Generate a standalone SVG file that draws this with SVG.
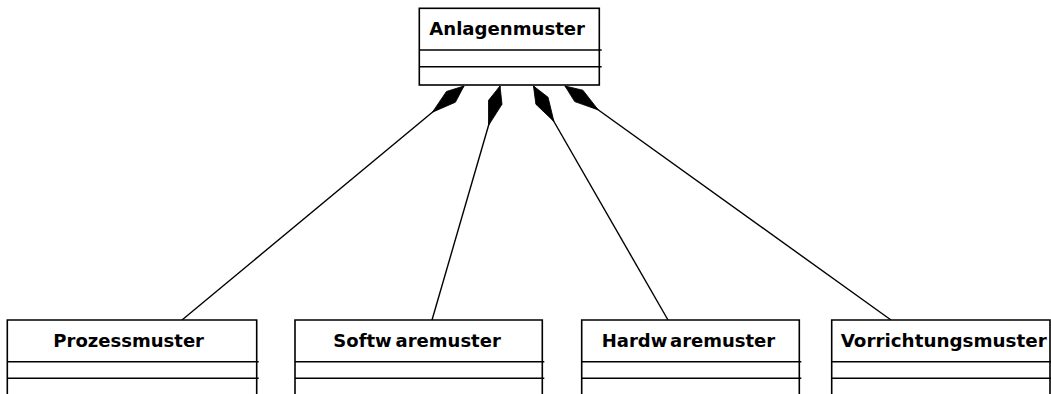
<svg xmlns="http://www.w3.org/2000/svg" width="1051" height="394" viewBox="0 0 1051 394">
<style>
.box{fill:#fff;stroke:#000;stroke-width:1.6}
.div{stroke:#000;stroke-width:1.6;fill:none}
.name{font-family:"DejaVu Sans","Verdana",sans-serif;font-weight:bold;font-size:18px;fill:#000}
.conn{stroke:#000;stroke-width:1.4;fill:none;marker-start:url(#diamond)}
</style>
<defs>
<marker id="diamond" markerUnits="userSpaceOnUse" markerWidth="50" markerHeight="20" refX="0" refY="8" orient="auto" viewBox="0 0 50 16" overflow="visible">
<path d="M0,8 L17,1 L41,8 L17,15 Z" fill="#000" stroke="#000" stroke-width="0.8"/>
</marker>
</defs>
<rect width="1051" height="394" fill="#fff"/>
<g id="connectors">
<path class="conn" d="M464,86 L182,320"/>
<path class="conn" d="M500,86 L432,320"/>
<path class="conn" d="M533.5,86 L668,320"/>
<path class="conn" d="M565,86 L891,320"/>
</g>
<g id="anlagenmuster">
<rect class="box" x="419.3" y="8.3" width="180" height="76.7"/>
<path class="div" d="M419.3,50 H601.7 M419.3,66.7 H601.7"/>
<text class="name" x="429.3" y="35" textLength="155.7" lengthAdjust="spacingAndGlyphs">Anlagenmuster</text>
</g>
<g id="prozessmuster">
<path class="box" d="M7.3,395 V320 H256.7 V395"/>
<path class="div" d="M7.3,361.7 H258.7 M7.3,378.3 H258.7"/>
<text class="name" x="53.3" y="346.7" textLength="150.7" lengthAdjust="spacingAndGlyphs">Prozessmuster</text>
</g>
<g id="softwaremuster">
<path class="box" d="M295,395 V320 H542.3 V395"/>
<path class="div" d="M295,361.7 H544.3 M295,378.3 H544.3"/>
<text class="name" y="346.7"><tspan x="333.3">Softw</tspan><tspan x="395.6">aremuster</tspan></text>
</g>
<g id="hardwaremuster">
<path class="box" d="M581.7,395 V320 H799.3 V395"/>
<path class="div" d="M581.7,361.7 H801.3 M581.7,378.3 H801.3"/>
<text class="name" y="346.7"><tspan x="601.7">Hardw</tspan><tspan x="670">aremuster</tspan></text>
</g>
<g id="vorrichtungsmuster">
<path class="box" d="M831.7,395 V320 H1050 V395"/>
<path class="div" d="M831.7,361.7 H1051 M831.7,378.3 H1051"/>
<text class="name" x="840.7" y="346.7" textLength="206" lengthAdjust="spacingAndGlyphs">Vorrichtungsmuster</text>
</g>
</svg>
